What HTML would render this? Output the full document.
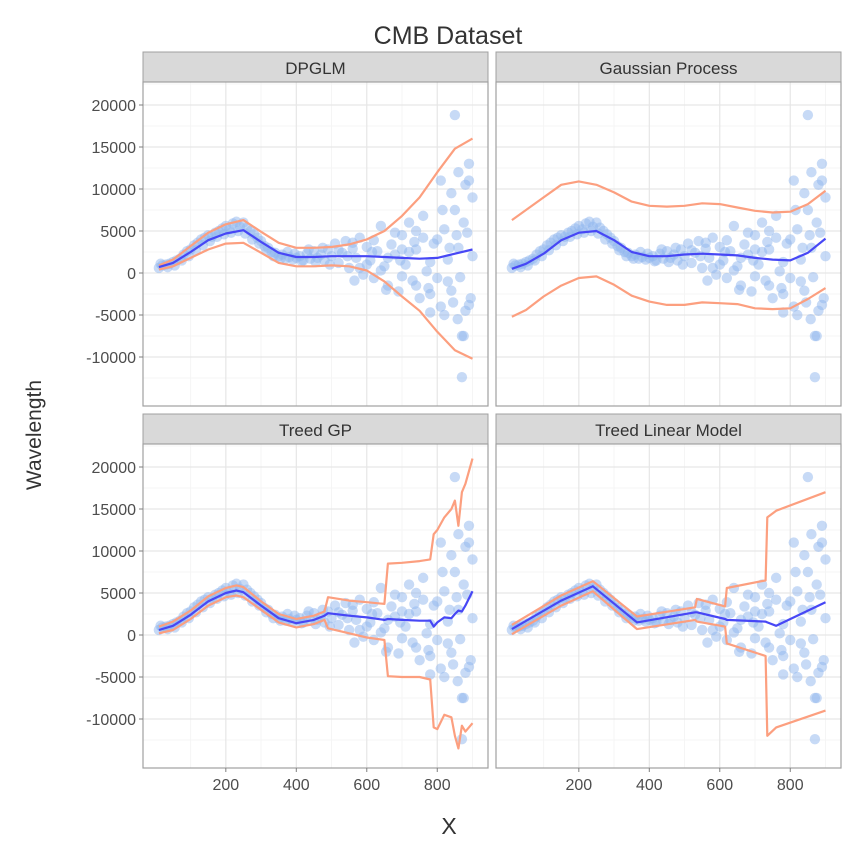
<!DOCTYPE html>
<html><head><meta charset="utf-8"><style>
body{margin:0;background:#fff;}
svg{display:block;font-family:"Liberation Sans",sans-serif;}
</style></head><body>
<svg id="c" width="860" height="844"></svg>
<script>
const ptX=[10,20,30,40,50,60,70,80,90,100,110,120,130,140,150,160,170,180,190,200,210,220,230,240,250,260,270,280,290,300,310,320,330,340,350,360,370,380,390,400,410,420,430,440,450,460,470,480,490,500,
15,35,55,75,95,115,135,155,175,195,215,235,255,275,295,315,335,355,375,395,415,435,455,475,495,
510,520,530,540,550,560,570,580,590,600,610,620,630,640,650,660,670,680,690,700,710,720,730,740,750,760,770,780,790,800,810,820,830,840,850,860,870,880,890,900,
520,560,600,640,680,700,720,740,760,780,800,810,820,830,840,850,855,860,865,870,875,880,885,890,895,900,780,700,740,660,620,580,545,565,615,655,695,735,775,815,835,845,875,890,858];
const ptY=[600,900,1000,1100,1300,1500,1700,2200,2600,2800,3300,3600,4000,4200,4500,4300,4800,5000,5300,5600,5200,5900,6100,5500,6000,5400,5000,4600,4200,3800,3200,3000,2500,2400,2000,2200,1700,1900,1600,1800,2000,1500,2300,1700,2600,1800,2200,1500,2800,2000,
1100,700,900,1500,2000,2700,3300,3800,4300,4600,4800,5000,4700,4000,3500,2700,2000,1700,2500,2300,1400,2800,1300,3000,1000,
3500,1200,2400,3800,600,2900,1800,4200,-200,3100,1500,-600,2600,5600,800,-1500,3400,2200,-2200,4500,1000,6000,-900,2800,-3000,4200,200,-2500,3500,-600,-4000,5200,1600,-2100,7500,3000,-7500,10500,-3800,9000,
2700,3600,1000,300,4800,-400,2500,-1500,6800,1300,4000,11000,-5000,-1000,9500,18800,4500,12000,-500,-12400,6000,-4500,4800,13000,-3000,2000,-4700,2800,5000,1800,3900,600,2000,-900,2500,-2000,1500,3700,-1800,7500,3000,-3500,-7500,11000,-5500];

const dpX=[10,50,100,150,200,250,300,350,400,450,500,550,600,650,700,750,800,850,900];
const dpMean=[700,1200,2500,3900,4700,5100,3700,2400,1900,1900,2000,2000,2000,1900,1800,1700,1800,2300,2800];
const dpUp=[900,1600,3200,4800,5800,6300,4900,3600,3000,3000,3100,3400,4000,5000,6800,9000,12000,14800,16000];
const dpLo=[400,800,1800,2800,3500,3600,2400,1200,800,800,900,800,300,-1000,-2800,-4500,-7000,-9200,-10200];

const gpX=[10,50,100,150,200,250,300,350,400,450,500,550,600,650,700,750,800,850,900];
const gpMean=[500,1100,2300,3900,4800,5000,3900,2500,2000,2000,2200,2300,2200,2100,1800,1600,1500,2400,4100];
const gpUp=[6300,7500,9000,10500,10900,10500,9600,8500,8000,7900,8000,8300,8200,7800,7400,7200,7300,8200,9800];
const gpLo=[-5200,-4400,-2800,-1500,-600,-400,-1400,-2700,-3400,-3800,-3800,-3500,-3600,-3700,-4200,-4300,-4200,-3100,-1800];

const tgX=[10,50,100,150,200,230,250,300,350,400,450,480,490,550,600,650,660,700,750,780,790,800,820,840,850,860,870,880,900];
const tgMean=[600,1100,2400,4000,5000,5300,5100,3500,2000,1400,1800,2300,2600,2300,2100,1800,1900,1800,1700,1700,1000,1500,2100,2000,2500,2900,2800,3500,5200];
const tgUp=[1000,1600,2900,4600,5600,5900,5700,4000,2500,1900,2300,2800,4500,4100,3900,3700,8500,8600,8800,9000,12000,12500,14000,15000,16000,13000,17000,18000,21000];
const tgLo=[200,600,1900,3500,4500,4700,4500,3000,1500,900,1300,1800,800,200,-300,-600,-4900,-5000,-5000,-5300,-11000,-11200,-9500,-9800,-12000,-13500,-10800,-11500,-10500];

const tlX=[10,150,240,365,530,535,615,620,730,735,760,900];
const tlMean=[700,4100,5800,1500,2700,2700,1900,1800,1600,1500,1100,3900];
const tlUp=[1200,4700,6400,2200,3300,4300,3400,5600,6500,14000,14800,17000];
const tlLo=[100,3500,5200,700,1800,1600,1000,-1000,-2500,-12000,-11000,-9000];

const yTicks=[-10000,-5000,0,5000,10000,15000,20000];
const xTicks=[200,400,600,800];

const NS="http://www.w3.org/2000/svg";
const svg=document.getElementById('c');
function mk(t,a,p){const e=document.createElementNS(NS,t);for(const k in a)e.setAttribute(k,a[k]);(p||svg).appendChild(e);return e;}

const panels=[
 {title:"DPGLM",x0:143,y0:52,xs:dpX,m:dpMean,u:dpUp,l:dpLo,left:true,bottom:false},
 {title:"Gaussian Process",x0:496,y0:52,xs:gpX,m:gpMean,u:gpUp,l:gpLo,left:false,bottom:false},
 {title:"Treed GP",x0:143,y0:414,xs:tgX,m:tgMean,u:tgUp,l:tgLo,left:true,bottom:true},
 {title:"Treed Linear Model",x0:496,y0:414,xs:tlX,m:tlMean,u:tlUp,l:tlLo,left:false,bottom:true}
];
const W=345,SH=30,PH=324,XMIN=-35,XMAX=944,YMIN=-15833,YMAX=22738;

panels.forEach(p=>{
 const g=mk('g',{});
 
 
 const top=p.y0+SH;
 const sx=v=>p.x0+(v-XMIN)/(XMAX-XMIN)*W;
 const sy=v=>top+(YMAX-v)/(YMAX-YMIN)*PH;
 const strip=mk('rect',{x:p.x0,y:p.y0,width:W,height:SH,fill:'#d9d9d9',stroke:'#a0a0a0','stroke-width':1},g);
 
 
 const st=mk('text',{x:p.x0+W/2,y:p.y0+22,'text-anchor':'middle','font-size':17,fill:'#333'},g);
 st.textContent=p.title;
 
 
 mk('rect',{x:p.x0,y:top,width:W,height:PH,fill:'#fff'},g);
 for(let v=100;v<=900;v+=200){mk('line',{x1:sx(v),x2:sx(v),y1:top,y2:top+PH,stroke:'#f5f5f5','stroke-width':1},g);}
 for(let v=-12500;v<=22500;v+=5000){mk('line',{x1:p.x0,x2:p.x0+W,y1:sy(v),y2:sy(v),stroke:'#f5f5f5','stroke-width':1},g);}
 xTicks.forEach(v=>{const l=mk('line',{x1:sx(v),x2:sx(v),y1:top,y2:top+PH,stroke:'#e6e6e6','stroke-width':1.2},g);});
 yTicks.forEach(v=>{const l=mk('line',{x1:p.x0,x2:p.x0+W,y1:sy(v),y2:sy(v),stroke:'#e6e6e6','stroke-width':1.2},g);});
 ptX.forEach((x,i)=>{
  const c=mk('circle',{cx:sx(x),cy:sy(ptY[i]),r:5.2,fill:'#90b5ee','fill-opacity':0.5},g);
  
  
 });
 const path=arr=>p.xs.map((x,i)=>sx(x).toFixed(1)+','+sy(arr[i]).toFixed(1)).join(' ');
 [['upper-band',p.u,'#fc9f7f'],['lower-band',p.l,'#fc9f7f'],['mean-line',p.m,'#4747f5']].forEach(s=>{
  const pl=mk('polyline',{points:path(s[1]),fill:'none',stroke:s[2],'stroke-width':2.2,'stroke-linejoin':'round'},g);
  
  
 });
 mk('rect',{x:p.x0,y:top,width:W,height:PH,fill:'none',stroke:'#a0a0a0','stroke-width':1.2},g);
 if(p.left){yTicks.forEach(v=>{
  mk('line',{x1:p.x0-4,x2:p.x0,y1:sy(v),y2:sy(v),stroke:'#7f7f7f'},g);
  const t=mk('text',{x:p.x0-7,y:sy(v)+6,'text-anchor':'end','font-size':16,fill:'#4d4d4d'},g);
  t.textContent=v;
  
  
 });}
 if(p.bottom){xTicks.forEach(v=>{
  mk('line',{x1:sx(v),x2:sx(v),y1:top+PH,y2:top+PH+4,stroke:'#7f7f7f'},g);
  const t=mk('text',{x:sx(v),y:top+PH+22,'text-anchor':'middle','font-size':16,fill:'#4d4d4d'},g);
  t.textContent=v;
  
  
 });}
});
const ti=mk('text',{x:448,y:44,'text-anchor':'middle','font-size':25,fill:'#333'});
ti.textContent='CMB Dataset';


const xt=mk('text',{x:449,y:834,'text-anchor':'middle','font-size':23,fill:'#333'});
xt.textContent='X';


const yt=mk('text',{x:0,y:0,'text-anchor':'middle','font-size':21,fill:'#333',transform:'translate(41,435) rotate(-90)'});
yt.textContent='Wavelength';


</script>
</body></html>
